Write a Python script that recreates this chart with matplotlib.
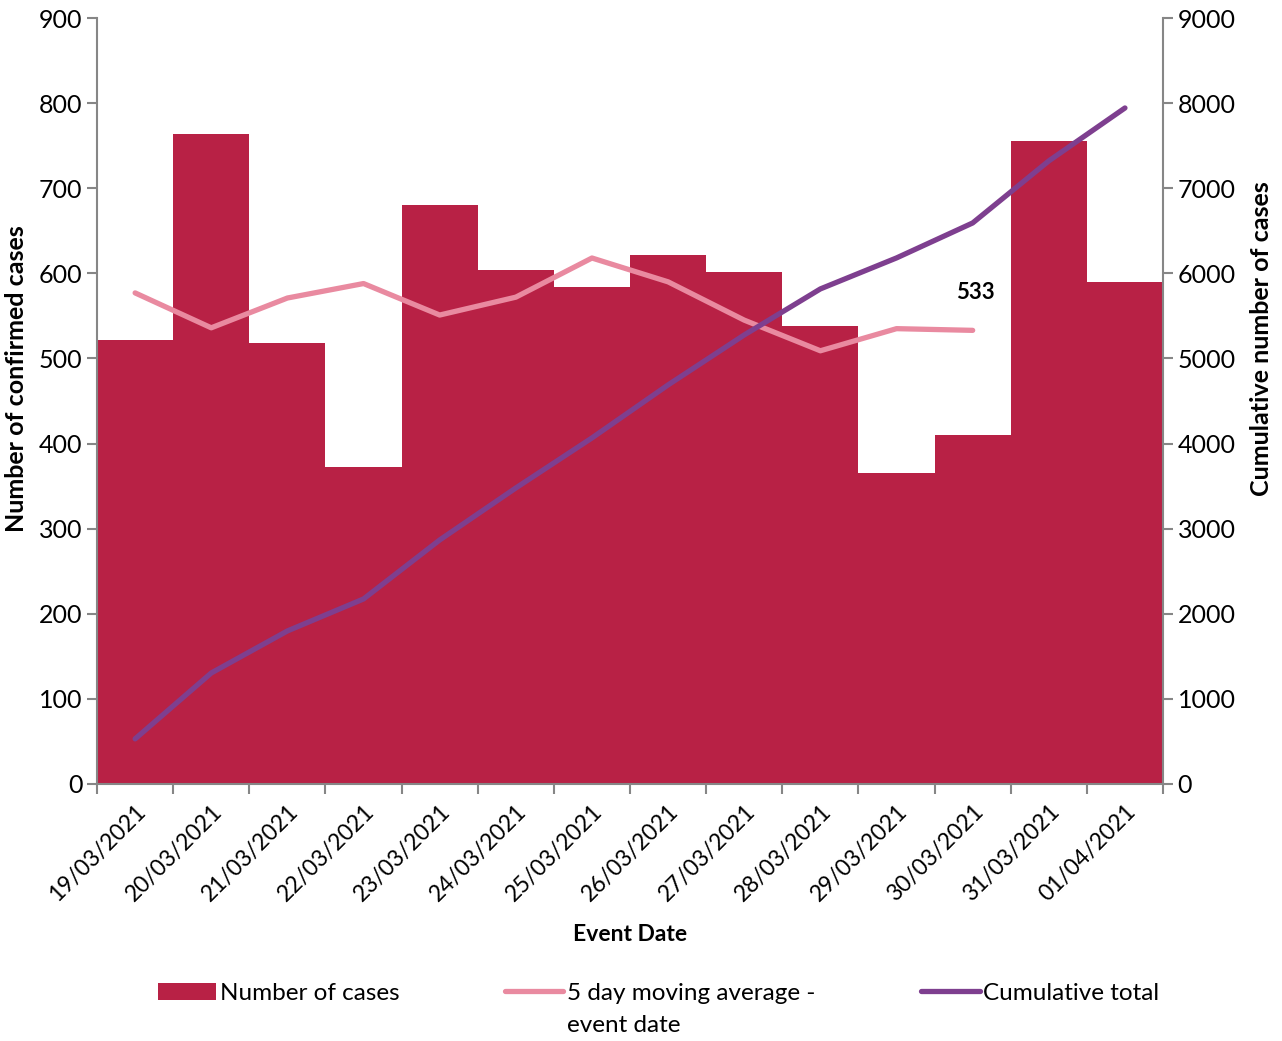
import numpy as np
import matplotlib
matplotlib.use("Agg")
import matplotlib.pyplot as plt

plt.rcParams['font.family'] = ['Lato', 'DejaVu Sans']

dates = ['19/03/2021', '20/03/2021', '21/03/2021', '22/03/2021', '23/03/2021',
         '24/03/2021', '25/03/2021', '26/03/2021', '27/03/2021', '28/03/2021',
         '29/03/2021', '30/03/2021', '31/03/2021', '01/04/2021']
cases = [522, 764, 518, 372, 680, 604, 584, 622, 601, 538, 365, 410, 756, 590]
moving_avg = [577, 536, 571, 588, 551, 572, 618, 590, 545, 509, 535, 533]
cumulative = [530, 1304, 1798, 2174, 2867, 3478, 4066, 4689, 5276, 5817,
              6181, 6592, 7321, 7943]

bar_col = '#B82145'
pink = '#E98AA0'
purple = '#7E3F8F'
grey = '#868686'

fig = plt.figure(figsize=(12.82, 10.41), dpi=100)
ax = fig.add_axes([0.0757, 0.2469, 0.9072 - 0.0757, 0.9827 - 0.2469])
x = np.arange(len(dates))

bars = ax.bar(x, cases, width=1.0, color=bar_col, label='Number of cases', zorder=1)
ma_line, = ax.plot(x[:len(moving_avg)], moving_avg, color=pink, lw=3.8,
                   solid_capstyle='round', zorder=3)
ax.annotate(str(moving_avg[-1]), (x[len(moving_avg) - 1], moving_avg[-1]),
            xytext=(2, 27), textcoords='offset points', ha='center', va='center',
            fontsize=16, fontweight='bold')

ax.set_xlim(-0.5, len(dates) - 0.5)
ax.set_ylim(0, 900)
ax.set_yticks(range(0, 901, 100))
ax.set_xticks(np.arange(-0.5, len(dates), 1.0))
ax.set_xticklabels([])
ax.set_xticks(x, minor=True)
ax.set_xticklabels(dates, minor=True, rotation=45, ha='right', rotation_mode='anchor',
                   fontsize=16.5)
ax.tick_params(axis='x', which='minor', length=0, pad=12)
ax.tick_params(axis='x', which='major', length=7, color=grey, width=1.5)
ax.tick_params(axis='y', length=7, color=grey, width=1.5, labelsize=18)
ax.set_ylabel('Number of confirmed cases', fontsize=18, fontweight='bold')
ax.yaxis.set_label_coords(-0.065, 0.529)
ax.set_xlabel('Event Date', fontsize=16.5, fontweight='bold', labelpad=14)
for s in ['top', 'right']:
    ax.spines[s].set_visible(False)
for s in ['left', 'bottom']:
    ax.spines[s].set_color(grey)
    ax.spines[s].set_linewidth(1.5)

ax2 = ax.twinx()
cum_line, = ax2.plot(x, cumulative, color=purple, lw=3.8, solid_capstyle='round')
ax2.set_ylim(0, 9000)
ax2.set_yticks(range(0, 9001, 1000))
ax2.tick_params(axis='y', length=7, color=grey, width=1.5, labelsize=18)
ax2.set_ylabel('Cumulative number of cases', fontsize=18, fontweight='bold')
ax2.yaxis.set_label_coords(1.0816, 0.581)
for s in ['top', 'left', 'bottom']:
    ax2.spines[s].set_visible(False)
ax2.spines['right'].set_color(grey)
ax2.spines['right'].set_linewidth(1.5)

leg = fig.legend([bars, ma_line, cum_line],
                 ['Number of cases', '5 day moving average -', 'Cumulative total'],
                 loc='center', bbox_to_anchor=(0.5137, 0.046), ncol=3, frameon=False,
                 fontsize=17.5, handlelength=2.4, handletextpad=0.15, columnspacing=4.35)

# second line of the moving-average legend entry, aligned under the first
fig.canvas.draw()
tb = leg.get_texts()[1].get_window_extent().transformed(fig.transFigure.inverted())
fig.text(tb.x0, tb.y0 - 0.011, 'event date', fontsize=17.5, ha='left', va='top')

fig.savefig('out.png', dpi=100)
